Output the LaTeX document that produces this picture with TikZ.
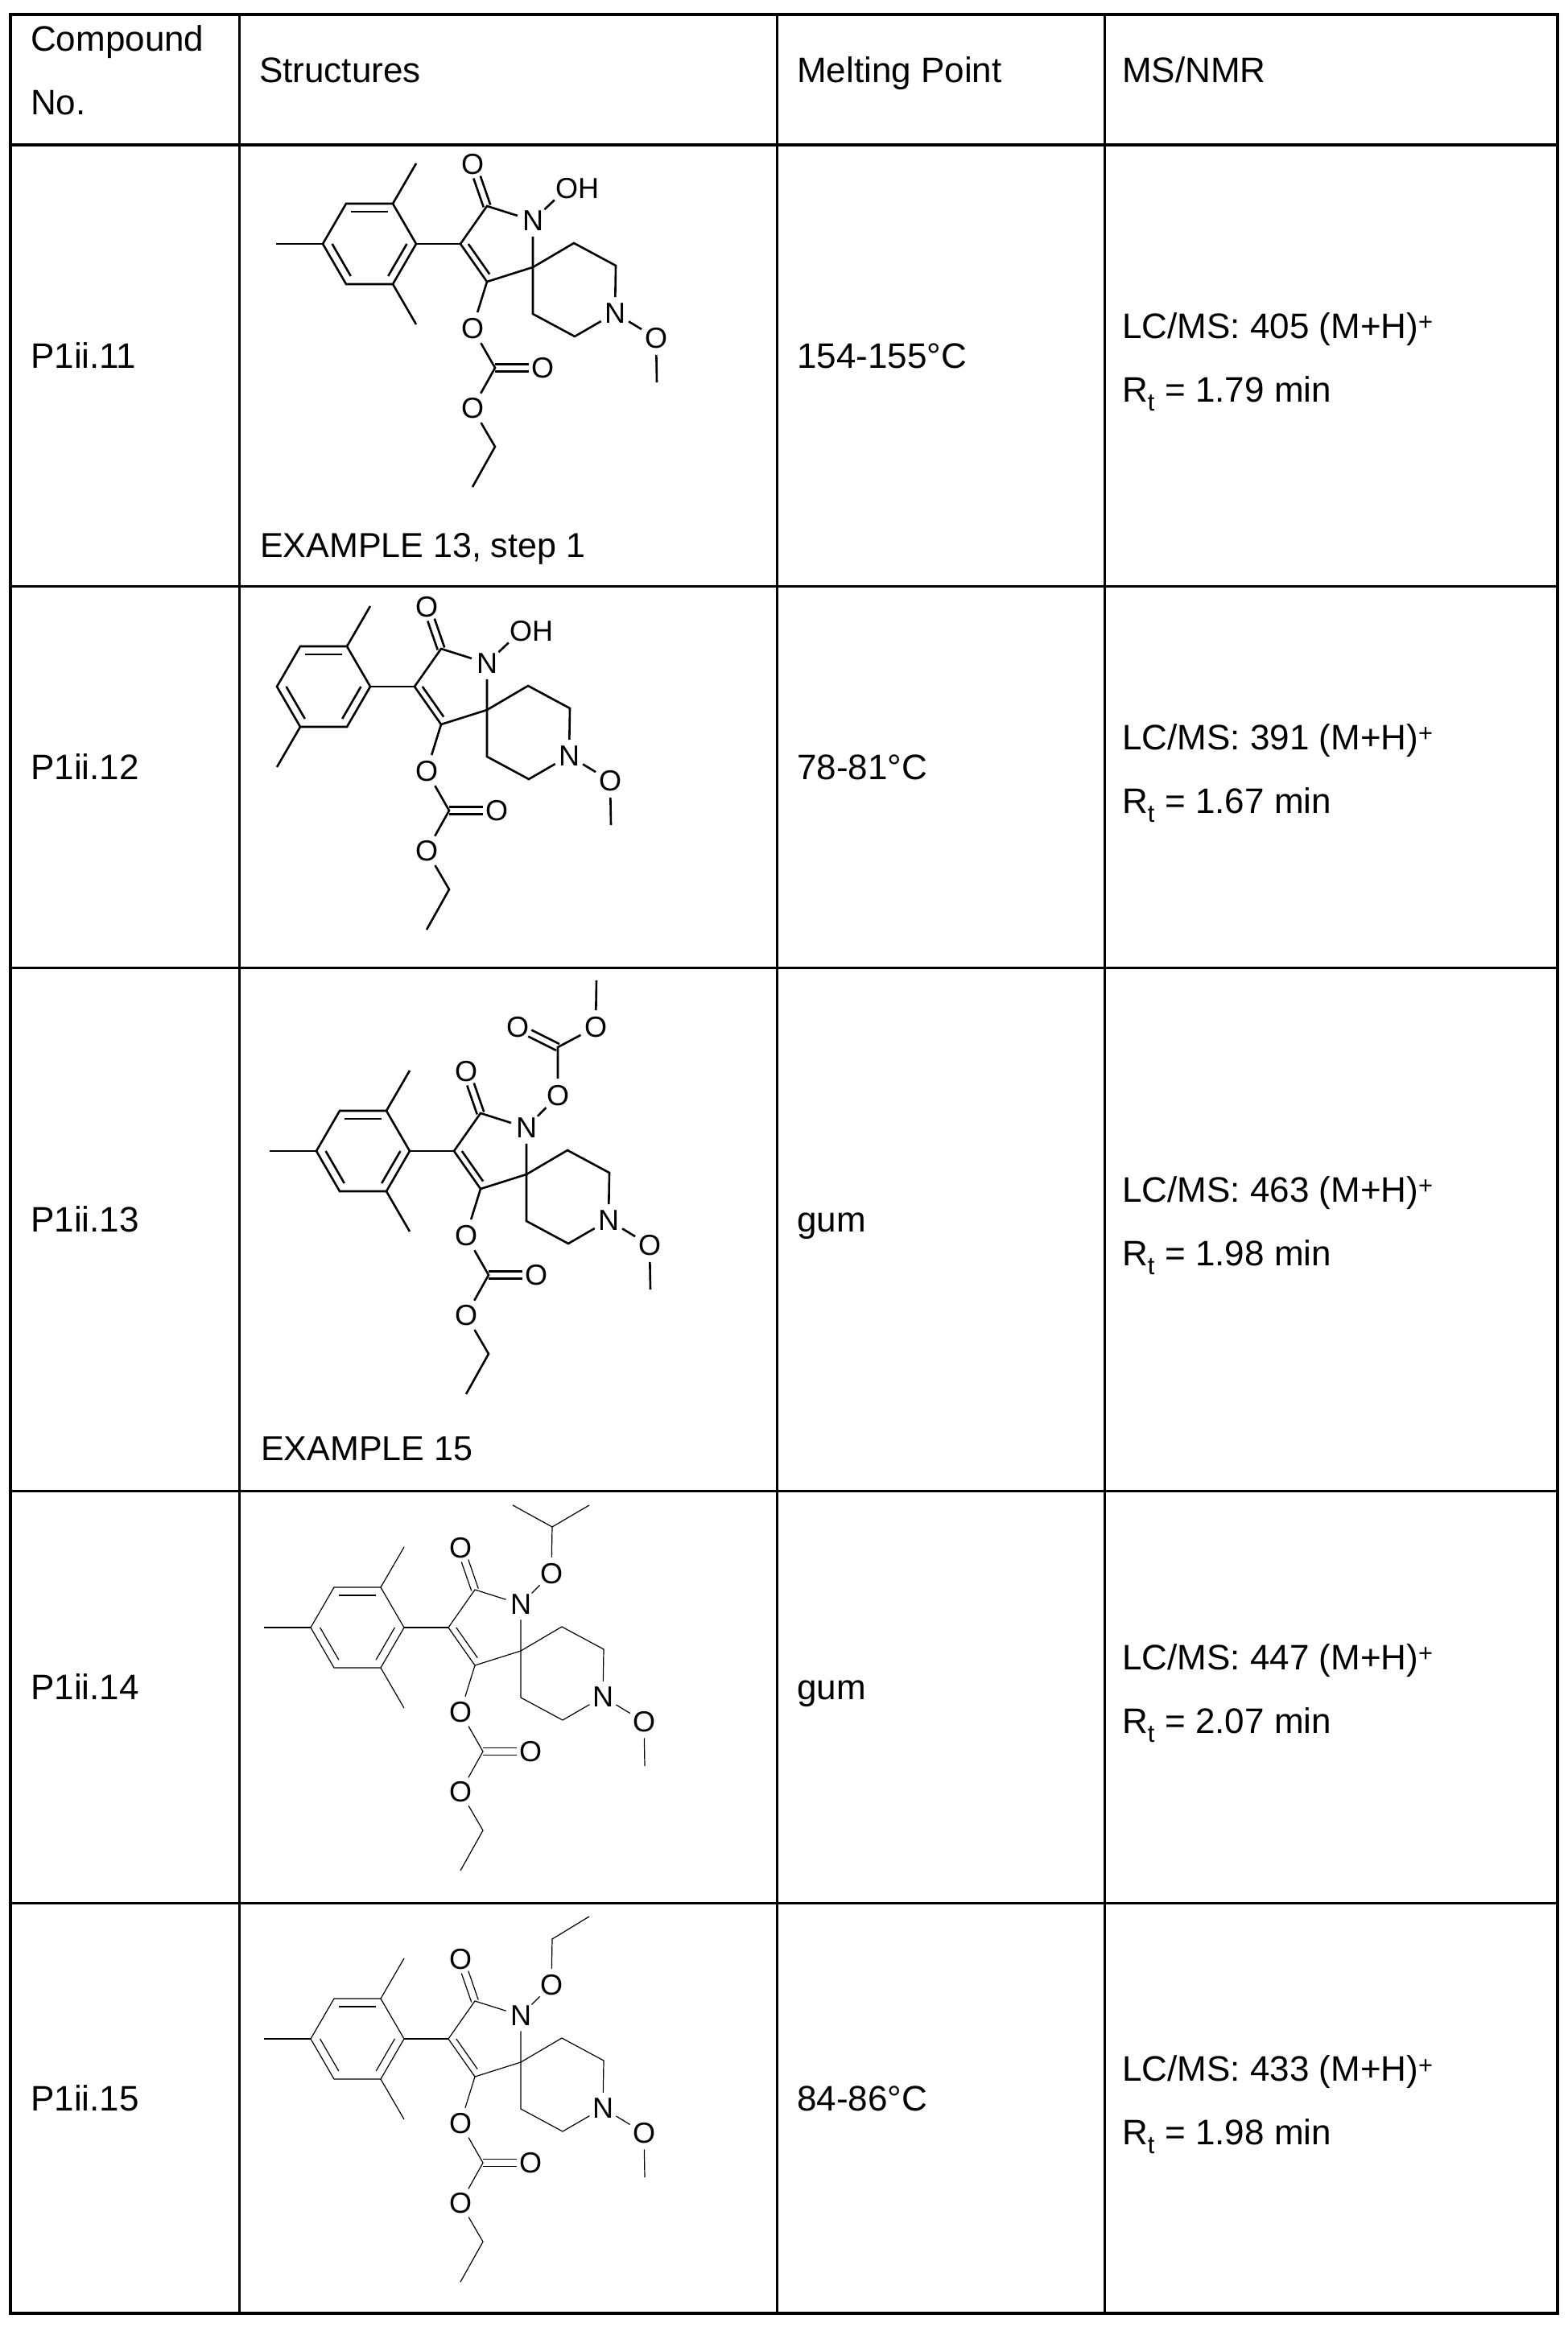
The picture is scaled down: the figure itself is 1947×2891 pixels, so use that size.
\documentclass[tikz,border=0pt]{standalone}
\usepackage{fontspec}
\setmainfont{Liberation Sans}
\usetikzlibrary{calc}
\tikzset{
  atom/.style={circle,inner sep=0.5pt,font=\fontsize{36}{36}\selectfont},
  txt/.style={anchor=base west,inner sep=0,font=\fontsize{44}{50}\selectfont},
  extxt/.style={anchor=base west,inner sep=0,font=\fontsize{43}{50}\selectfont},
  thickbond/.style={line width=2.6pt},
  thinbond/.style={line width=1.2pt},
  outer/.style={line width=4.5pt},
  inner/.style={line width=3pt}
}
\newcommand\rdb[3]{\draw ($(#3)!0.8!(#1)$) -- ($(#3)!0.8!(#2)$);}
\newcommand\dbo[2]{\draw[shorten >=17pt] ($(#1)!4.5pt!90:(#2)$) -- ($(#2)!4.5pt!-90:(#1)$);
  \draw[shorten >=17pt] ($(#1)!4.5pt!-90:(#2)$) -- ($(#2)!4.5pt!90:(#1)$);}
\newcommand\core[1]{
  \coordinate (S) at (0,0);
  \coordinate (C3p) at (-90,-29); \coordinate (C2p) at (-57,-76); \coordinate (C4p) at (-57,18);
  \coordinate (pc) at (-41,-29);
  \node[atom] (N) at (0,-58) {N};
  \node[atom] (O0) at (-75,-128) {O};
  \coordinate (b1) at (-145,-29); \coordinate (b2) at (-174,-79); \coordinate (b3) at (-232,-79);
  \coordinate (b4) at (-261,-29); \coordinate (b5) at (-232,21); \coordinate (b6) at (-174,21);
  \coordinate (bc) at (-203,-29);
  \coordinate (p1) at (51,-30); \coordinate (p2) at (103,-2); \coordinate (p6) at (0,58); \coordinate (p5) at (52,86);
  \node[atom] (NP) at (102,57) {N};
  \node[atom] (Op) at (153,88) {O};
  \coordinate (Me) at (154,143);
  \node[atom] (O1) at (-75,76) {O};
  \coordinate (Cc) at (-47,125);
  \node[atom] (O2) at (12,125) {O};
  \node[atom] (O3) at (-75,175) {O};
  \coordinate (E1) at (-47,223); \coordinate (E2) at (-75,273);
  \draw (b1) -- (b2) -- (b3) -- (b4) -- (b5) -- (b6) -- cycle;
  \rdb{b2}{b3}{bc} \rdb{b4}{b5}{bc} \rdb{b6}{b1}{bc}
  \ifnum#1=1
    \draw (b2) -- ++(29,-50); \draw (b4) -- ++(-58,0); \draw (b6) -- ++(29,50);
  \else
    \draw (b2) -- ++(29,-50); \draw (b5) -- ++(-29,50);
  \fi
  \draw (b1) -- (C3p);
  \draw (C3p) -- (C2p) -- (N) -- (S) -- (C4p) -- (C3p);
  \rdb{C3p}{C4p}{pc}
  \dbo{C2p}{O0}
  \draw (S) -- (p1) -- (p2) -- (NP) -- (p5) -- (p6) -- (S);
  \draw (NP) -- (Op) -- (Me);
  \draw (C4p) -- (O1) -- (Cc) -- (O3) -- (E1) -- (E2);
  \dbo{Cc}{O2}
}
\begin{document}
\begin{tikzpicture}[x=1pt,y=-1pt]
\useasboundingbox (0,0) rectangle (1947,2891);
\coordinate (tl) at (13,18); \coordinate (br) at (1935,2874);
\draw[inner] (297,18) -- (297,2874) (965,18) -- (965,2874) (1372,18) -- (1372,2874);
\draw[inner] (13,728) -- (1935,728) (13,1202) -- (1935,1202) (13,1852) -- (1935,1852) (13,2364) -- (1935,2364);
\draw[outer] (13,180) -- (1935,180);
\draw[outer] (tl) rectangle (br);
\node[txt] (h1) at (38,63) {Compound};
\node[txt] (h1b) at (38,142) {No.};
\node[txt] (h2) at (322,102) {Structures};
\node[txt] (h3) at (990,102) {Melting Point};
\node[txt] (h4) at (1394,102) {MS/NMR};
\foreach \c/\name/\mp/\ms/\rt [count=\i] in {454/P1ii.11/154-155°C/405/1.79, 965/P1ii.12/78-81°C/391/1.67, 1527/P1ii.13/gum/463/1.98, 2108/P1ii.14/gum/447/2.07, 2619/P1ii.15/84-86°C/433/1.98}{
  \node[txt] (cn\i) at (38,\c+3) {\name};
  \node[txt] (mp\i) at (990,\c+3) {\mp};
  \node[txt] (ms\i) at (1394,\c-34) {LC/MS: \ms\ (M+H)\textsuperscript{+}};
  \node[txt] (rt\i) at (1394,\c+45) {R\textsubscript{t} = \rt\ min};
}
\node[extxt] (ex13) at (323,692) {EXAMPLE 13, step 1};
\node[extxt] (ex15) at (324,1814) {EXAMPLE 15};
\begin{scope}[shift={(662,332)},thickbond]
  \core{1}
  \node[atom] (Oh) at (42,-98) {O};
  \node[atom,inner sep=0pt] (Hh) at ($(Oh.center)+(27,0)$) {H};
  \draw (N) -- (Oh);
\end{scope}
\begin{scope}[shift={(605,882)},thickbond]
  \core{2}
  \node[atom] (Oh) at (42,-98) {O};
  \node[atom,inner sep=0pt] (Hh) at ($(Oh.center)+(27,0)$) {H};
  \draw (N) -- (Oh);
\end{scope}
\begin{scope}[shift={(654,1459)},thickbond]
  \core{1}
  \node[atom] (Ox) at (39,-98) {O};
  \coordinate (Cx) at (39,-158);
  \node[atom] (Oy) at (-11,-183) {O};
  \node[atom] (Oz) at (86,-183) {O};
  \coordinate (Mx) at (87,-241);
  \draw (N) -- (Ox) -- (Cx) -- (Oz) -- (Mx);
  \dbo{Cx}{Oy}
\end{scope}
\begin{scope}[shift={(647,2051)},thinbond]
  \core{1}
  \node[atom] (Ox) at (38,-96) {O};
  \coordinate (Cx) at (39,-154);
  \draw (N) -- (Ox) -- (Cx) -- (-10,-181);
  \draw (Cx) -- (85,-181);
\end{scope}
\begin{scope}[shift={(647,2562)},thinbond]
  \core{1}
  \node[atom] (Ox) at (38,-96) {O};
  \coordinate (Cx) at (39,-153);
  \draw (N) -- (Ox) -- (Cx) -- (85,-181);
\end{scope}
\end{tikzpicture}
\end{document}
